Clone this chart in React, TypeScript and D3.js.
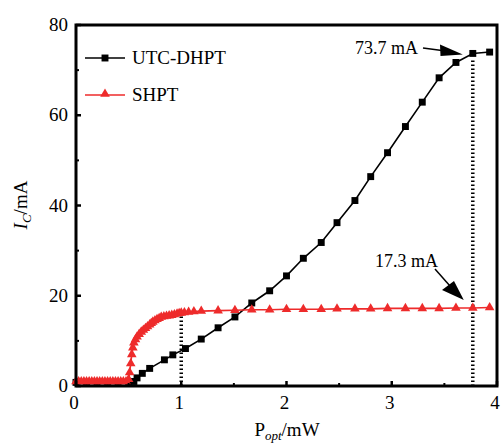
import React from "react";
import * as d3 from "d3";

const utcX = [0.0, 0.1, 0.2, 0.3, 0.4, 0.5, 0.55, 0.58, 0.63, 0.7, 0.84, 0.92, 1.04, 1.19, 1.35, 1.51, 1.67, 1.84, 2.0, 2.16, 2.33, 2.48, 2.65, 2.8, 2.96, 3.13, 3.29, 3.45, 3.61, 3.77, 3.93];
const utcY = [0.8, 0.8, 0.8, 0.8, 0.8, 0.8, 1.0, 1.8, 2.8, 3.9, 5.8, 6.9, 8.3, 10.4, 12.9, 15.3, 18.4, 21.1, 24.4, 28.3, 31.8, 36.2, 41.1, 46.4, 51.7, 57.5, 62.9, 68.3, 71.7, 73.7, 74.0];

const shptX = [0.0, 0.025, 0.05, 0.075, 0.1, 0.125, 0.15, 0.175, 0.2, 0.225, 0.25, 0.275, 0.3, 0.325, 0.35, 0.375, 0.4, 0.425, 0.45, 0.475, 0.5, 0.51, 0.52, 0.53, 0.54, 0.55, 0.565, 0.58, 0.6, 0.62, 0.64, 0.66, 0.68, 0.7, 0.715, 0.73, 0.75, 0.77, 0.79, 0.81, 0.835, 0.86, 0.885, 0.91, 0.935, 0.96, 0.98, 1.0, 1.03, 1.07, 1.12, 1.19, 1.35, 1.51, 1.67, 1.84, 2.0, 2.16, 2.33, 2.48, 2.65, 2.8, 2.96, 3.13, 3.29, 3.45, 3.61, 3.77, 3.93];
const shptY = [1.0, 1.0, 1.0, 1.0, 1.0, 1.0, 1.0, 1.0, 1.0, 1.0, 1.0, 1.0, 1.0, 1.0, 1.0, 1.0, 1.0, 1.0, 1.0, 1.0, 1.5, 3.0, 5.0, 7.0, 8.5, 9.6, 10.3, 10.9, 11.5, 12.0, 12.4, 12.8, 13.2, 13.6, 13.9, 14.2, 14.5, 14.8, 15.0, 15.3, 15.4, 15.5, 15.6, 15.7, 15.85, 16.0, 16.1, 16.2, 16.3, 16.4, 16.5, 16.6, 16.7, 16.8, 16.9, 16.9, 17.0, 17.0, 17.0, 17.1, 17.1, 17.1, 17.2, 17.2, 17.2, 17.2, 17.3, 17.3, 17.4];

const xTicks = [0, 1, 2, 3, 4];
const xMinor = [0.5, 1.5, 2.5, 3.5];
const yTicks = [0, 20, 40, 60, 80];
const yMinor = [10, 30, 50, 70];
const legendLabels = ["UTC-DHPT", "SHPT"];
const annotations = [{ x: 3.77, y: 73.7, label: "73.7 mA" }, { x: 3.77, y: 17.3, label: "17.3 mA" }];
const dropLines = [{ x: 1.0, y: 16.0 }, { x: 3.77, y: 72.5 }];

const RED = "#ee2b2b";
const FONT = "'Liberation Serif', serif";
const tstyle = { fontFamily: FONT };

export default function App() {
  const W = 503, H = 443;
  const x = d3.scaleLinear().domain([0, 4]).range([76, 497]);
  const y = d3.scaleLinear().domain([0, 80]).range([386, 25]);
  const line = d3.line<[number, number]>().x(d => x(d[0])).y(d => y(d[1]));
  const utc: [number, number][] = utcX.map((v, i) => [v, utcY[i]]);
  const shpt: [number, number][] = shptX.map((v, i) => [v, shptY[i]]);
  const sq = d3.symbol().type(d3.symbolSquare).size(48)()!;
  const tri = d3.symbol().type(d3.symbolTriangle).size(40)()!;

  const a1 = annotations[0], a2 = annotations[1];
  return (
    <svg width={W} height={H} style={{ position: "absolute", left: 0, top: 0, fontFamily: FONT }}>
      <rect width={W} height={H} fill="white" />
      {dropLines.map((d, i) => (
        <line key={i} x1={x(d.x)} x2={x(d.x)} y1={y(0)} y2={y(d.y)} stroke="#000" strokeWidth={3.5} strokeDasharray="1.4,2.6" />
      ))}
      <path d={line(utc)!} fill="none" stroke="#000" strokeWidth={1.6} />
      {utc.map((d, i) => (
        <path key={i} d={sq} transform={`translate(${x(d[0])},${y(d[1])})`} fill="#000" />
      ))}
      <path d={line(shpt)!} fill="none" stroke={RED} strokeWidth={1.6} />
      {shpt.map((d, i) => (
        <path key={i} d={tri} transform={`translate(${x(d[0])},${y(d[1])})`} fill={RED} />
      ))}
      <rect x={76} y={25} width={421} height={361} fill="none" stroke="#000" strokeWidth={3} />
      {yTicks.map(t => (
        <g key={t}>
          <line x1={76} x2={81} y1={y(t)} y2={y(t)} stroke="#000" strokeWidth={2.5} />
          <text x={68} y={y(t) + 6} textAnchor="end" fontSize={19} style={tstyle}>{t}</text>
        </g>
      ))}
      {yMinor.map(t => (
        <line key={t} x1={76} x2={79} y1={y(t)} y2={y(t)} stroke="#000" strokeWidth={2} />
      ))}
      {xTicks.map(t => (
        <g key={t}>
          <line x1={x(t)} x2={x(t)} y1={386} y2={381} stroke="#000" strokeWidth={2.5} />
          <text x={x(t) - 2} y={409} textAnchor="middle" fontSize={19} style={tstyle}>{t}</text>
        </g>
      ))}
      {xMinor.map(t => (
        <line key={t} x1={x(t)} x2={x(t)} y1={386} y2={383} stroke="#000" strokeWidth={2} />
      ))}
      <text x={287} y={436} textAnchor="middle" fontSize={19} style={tstyle}>
        P<tspan fontStyle="italic" fontSize={13} dy={4}>opt</tspan><tspan dy={-4}>/mW</tspan>
      </text>
      <text transform="translate(27,205) rotate(-90)" textAnchor="middle" fontSize={19} style={tstyle}>
        <tspan fontStyle="italic">I</tspan><tspan fontStyle="italic" fontSize={13} dy={4}>C</tspan><tspan dy={-4}>/mA</tspan>
      </text>
      <line x1={85} x2={125} y1={58} y2={58} stroke="#000" strokeWidth={1.6} />
      <path d={sq} transform="translate(105,58)" fill="#000" />
      <text x={132} y={64} fontSize={19} style={tstyle}>{legendLabels[0]}</text>
      <line x1={85} x2={125} y1={95} y2={95} stroke={RED} strokeWidth={1.6} />
      <path d={tri} transform="translate(105,94)" fill={RED} />
      <text x={132} y={101} fontSize={19} style={tstyle}>{legendLabels[1]}</text>
      <text x={355} y={54} fontSize={18} style={tstyle}>{a1.label}</text>
      <line x1={423} x2={442} y1={48} y2={50.5} stroke="#000" strokeWidth={1.5} />
      <path d={`M440,44.5 L${x(a1.x) - 10},${y(a1.y) + 1} L440.5,56 Z`} fill="#000" />
      <text x={375} y={267} fontSize={18} style={tstyle}>{a2.label}</text>
      <line x1={435} x2={450} y1={269} y2={286} stroke="#000" strokeWidth={1.5} />
      <path d={`M442,290 L${x(a2.x) - 9},${y(a2.y) - 8} L454,281 Z`} fill="#000" />
    </svg>
  );
}
